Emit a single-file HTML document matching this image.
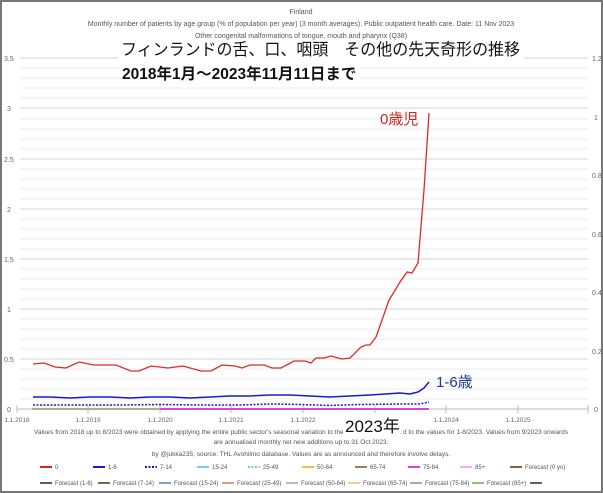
<!DOCTYPE html>
<html><head><meta charset="utf-8"><style>
html,body{margin:0;padding:0;background:#fff}
svg{display:block}
text{font-family:"Liberation Sans","Noto Sans CJK JP",sans-serif}
</style></head><body>
<svg width="603" height="493" viewBox="0 0 603 493" xmlns="http://www.w3.org/2000/svg">
<rect x="1" y="1" width="601" height="491" fill="#fff" stroke="#777" stroke-width="2"/>
<g stroke="#eee" stroke-width="1">
<line x1="20" x2="588" y1="399" y2="399"/><line x1="20" x2="588" y1="389" y2="389"/><line x1="20" x2="588" y1="379" y2="379"/><line x1="20" x2="588" y1="369" y2="369"/>
<line x1="20" x2="588" y1="349" y2="349"/><line x1="20" x2="588" y1="339" y2="339"/><line x1="20" x2="588" y1="329" y2="329"/><line x1="20" x2="588" y1="319" y2="319"/>
<line x1="20" x2="588" y1="299" y2="299"/><line x1="20" x2="588" y1="289" y2="289"/><line x1="20" x2="588" y1="279" y2="279"/><line x1="20" x2="588" y1="269" y2="269"/>
<line x1="20" x2="588" y1="249" y2="249"/><line x1="20" x2="588" y1="239" y2="239"/><line x1="20" x2="588" y1="229" y2="229"/><line x1="20" x2="588" y1="219" y2="219"/>
<line x1="20" x2="588" y1="199" y2="199"/><line x1="20" x2="588" y1="189" y2="189"/><line x1="20" x2="588" y1="179" y2="179"/><line x1="20" x2="588" y1="169" y2="169"/>
<line x1="20" x2="588" y1="149" y2="149"/><line x1="20" x2="588" y1="139" y2="139"/><line x1="20" x2="588" y1="129" y2="129"/><line x1="20" x2="588" y1="119" y2="119"/>
<line x1="20" x2="588" y1="98" y2="98"/><line x1="20" x2="588" y1="88" y2="88"/><line x1="20" x2="588" y1="78" y2="78"/><line x1="20" x2="588" y1="68" y2="68"/>
</g>
<g stroke="#ddd" stroke-width="1.2">
<line x1="20" x2="588" y1="359" y2="359"/><line x1="20" x2="588" y1="309" y2="309"/><line x1="20" x2="588" y1="259" y2="259"/><line x1="20" x2="588" y1="209" y2="209"/><line x1="20" x2="588" y1="159" y2="159"/><line x1="20" x2="588" y1="108" y2="108"/><line x1="20" x2="588" y1="58" y2="58"/>
</g>
<line x1="17" x2="588" y1="409" y2="409" stroke="#bbb"/>
<g stroke="#bbb"><line x1="17" x2="17" y1="405" y2="413"/><line x1="88" x2="88" y1="405" y2="413"/><line x1="160" x2="160" y1="405" y2="413"/><line x1="231" x2="231" y1="405" y2="413"/><line x1="303" x2="303" y1="405" y2="413"/><line x1="375" x2="375" y1="405" y2="413"/><line x1="446" x2="446" y1="405" y2="413"/><line x1="518" x2="518" y1="405" y2="413"/><line x1="588" x2="588" y1="405" y2="413"/></g>
<g font-size="7" fill="#666">
<text x="4" y="61">3.5</text><text x="7" y="111">3</text><text x="4" y="162">2.5</text><text x="7" y="212">2</text><text x="4" y="262">1.5</text><text x="7" y="312">1</text><text x="4" y="362">0.5</text><text x="7" y="412">0</text>
<text x="592" y="61">1.2</text><text x="594" y="120">1</text><text x="592" y="178">0.8</text><text x="592" y="237">0.6</text><text x="592" y="295">0.4</text><text x="592" y="354">0.2</text><text x="594" y="412">0</text>
</g>
<g font-size="6.5" fill="#666" text-anchor="middle">
<text x="17" y="422">1.1.2018</text><text x="88" y="422">1.1.2019</text><text x="160" y="422">1.1.2020</text><text x="231" y="422">1.1.2021</text><text x="303" y="422">1.1.2022</text><text x="446" y="422">1.1.2024</text><text x="518" y="422">1.1.2025</text>
</g>
<line x1="32" x2="160" y1="409" y2="409" stroke="#b5a98a" stroke-width="2"/>
<line x1="160" x2="429" y1="409" y2="409" stroke="#e040e0" stroke-width="2"/>
<polyline fill="none" stroke="#1a1acc" stroke-width="1.5" stroke-dasharray="2,1.5" points="33,405 80,405 120,405 160,404.5 200,405 240,405 270,404 300,404.5 330,405.5 360,404.5 400,404 420,404 429,402"/>
<polyline fill="none" stroke="#1a1acc" stroke-width="1.5" points="33,397 50,397 70,398 90,397 110,397 130,398 150,397 170,397 190,398 210,397 230,396 250,396 270,395 290,395 310,396 330,397 350,396 370,395 385,394 400,393 410,394 418,392 424,388 429,382"/>
<polyline fill="none" stroke="#e02828" stroke-width="1.3" points="33,364 44,363 55,367 66,368 79,362 94,365 116,365 131,371 139,371 151,366 168,368 183,366 201,371 211,371 222,365 235,366 242,368 250,365 264,365 272,368 281,368 294,361 305,361 311,363 316,358 324,358 331,356 342,359 350,358 361,347 366,345 370,345 376,337 381,323 389,300 394,292 400,282 407,272 412,273 418,263 424,190 429,113"/>
<text x="380" y="124" font-size="15" fill="#d42020">0歳児</text>
<text x="436" y="387" font-size="15" fill="#1a3a9a">1-6歳</text>
<g font-size="7" fill="#555" text-anchor="middle">
<text x="301" y="14">Finland</text>
<text x="301" y="26">Monthly number of patients by age group (% of population per year) (3 month averages). Public outpatient health care. Date: 11 Nov 2023</text>
<text x="301" y="38">Other congenital malformations of tongue, mouth and pharynx (Q38)</text>
</g>
<rect x="118" y="40" width="406" height="21" fill="#fff"/>
<text x="121" y="55" font-size="16.6" fill="#111" textLength="399" lengthAdjust="spacingAndGlyphs">フィンランドの舌、口、咽頭　その他の先天奇形の推移</text>
<rect x="120" y="64" width="240" height="20" fill="#fff"/>
<text x="122" y="79" font-size="15.5" font-weight="bold" fill="#111">2018年1月～2023年11月11日まで</text>
<g font-size="6.5" fill="#555" text-anchor="middle">
<text x="301" y="434">Values from 2018 up to 8/2023 were obtained by applying the entire public sector's seasonal variation to the annual ................... d to the values for 1-8/2023. Values from 9/2023 onwards</text>
<text x="301" y="444">are annualised monthly net new additions up to 31 Oct 2023.</text>
<text x="301" y="456">by @jukka235; source: THL Avohilmo database. Values are as announced and therefore involve delays.</text>
</g>
<rect x="343" y="413" width="56" height="24" fill="#fff"/>
<text x="345" y="432" font-size="17" fill="#111">2023年</text>
<g font-size="6" fill="#555">
<line x1="40" x2="52" y1="467" y2="467" stroke="#e02020" stroke-width="2"/><text x="55" y="469">0</text>
<line x1="93" x2="105" y1="467" y2="467" stroke="#1a1acc" stroke-width="2"/><text x="108" y="469">1-6</text>
<line x1="145" x2="157" y1="467" y2="467" stroke="#1a1acc" stroke-width="2" stroke-dasharray="2,1.5"/><text x="160" y="469">7-14</text>
<line x1="197" x2="209" y1="467" y2="467" stroke="#7ec8e8" stroke-width="2"/><text x="212" y="469">15-24</text>
<line x1="248" x2="260" y1="467" y2="467" stroke="#7ec8e8" stroke-width="2" stroke-dasharray="2,1.5"/><text x="263" y="469">25-49</text>
<line x1="302" x2="314" y1="467" y2="467" stroke="#f0c040" stroke-width="2"/><text x="317" y="469">50-64</text>
<line x1="355" x2="367" y1="467" y2="467" stroke="#a08050" stroke-width="2"/><text x="370" y="469">65-74</text>
<line x1="408" x2="420" y1="467" y2="467" stroke="#e040e0" stroke-width="2"/><text x="423" y="469">75-84</text>
<line x1="460" x2="472" y1="467" y2="467" stroke="#f0b0f0" stroke-width="2"/><text x="475" y="469">85+</text>
<line x1="510" x2="522" y1="467" y2="467" stroke="#806040" stroke-width="2"/><text x="525" y="469">Forecast (0 yo)</text>
<line x1="40" x2="52" y1="483" y2="483" stroke="#556080" stroke-width="2"/><text x="55" y="485">Forecast (1-6)</text>
<line x1="98" x2="110" y1="483" y2="483" stroke="#607050" stroke-width="2"/><text x="113" y="485">Forecast (7-14)</text>
<line x1="159" x2="171" y1="483" y2="483" stroke="#80a0c8" stroke-width="2"/><text x="174" y="485">Forecast (15-24)</text>
<line x1="222" x2="234" y1="483" y2="483" stroke="#e0a080" stroke-width="2"/><text x="237" y="485">Forecast (25-49)</text>
<line x1="286" x2="298" y1="483" y2="483" stroke="#bbb" stroke-width="2"/><text x="301" y="485">Forecast (50-64)</text>
<line x1="348" x2="360" y1="483" y2="483" stroke="#f0d090" stroke-width="2"/><text x="363" y="485">Forecast (65-74)</text>
<line x1="410" x2="422" y1="483" y2="483" stroke="#90b0d0" stroke-width="2"/><text x="425" y="485">Forecast (75-84)</text>
<line x1="472" x2="484" y1="483" y2="483" stroke="#90c080" stroke-width="2"/><text x="487" y="485">Forecast (85+)</text>
<line x1="530" x2="542" y1="483" y2="483" stroke="#556080" stroke-width="2"/>
</g>
</svg>
</body></html>
